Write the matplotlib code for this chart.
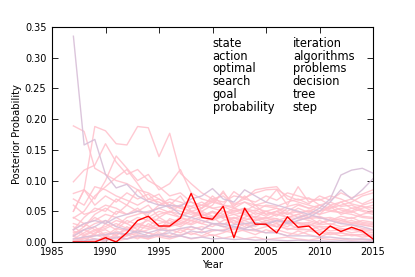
import matplotlib
matplotlib.use("Agg")
import matplotlib.pyplot as plt
import numpy as np

years = list(range(1987, 2016))

highlight = [0.000, 0.000, 0.000, 0.007, 0.000, 0.015, 0.035, 0.042, 0.026, 0.026,
             0.039, 0.079, 0.040, 0.037, 0.058, 0.007, 0.055, 0.029, 0.029, 0.015,
             0.041, 0.024, 0.026, 0.011, 0.026, 0.017, 0.024, 0.018, 0.005]

pink_series = [
    [.189,.180,.120,.110,.100,.095,.085,.080,.070,.060,.055,.050,.045,.040,.042,.035,.030,.030,.028,.025,.022,.020,.020,.018,.015,.015,.012,.012,.010],
    [.050,.085,.188,.181,.160,.158,.188,.186,.139,.177,.112,.095,.080,.070,.075,.060,.065,.055,.050,.055,.045,.050,.040,.042,.035,.038,.030,.028,.025],
    [.098,.117,.125,.160,.130,.110,.118,.100,.090,.075,.080,.065,.060,.055,.050,.045,.048,.040,.035,.038,.030,.032,.028,.025,.025,.022,.020,.020,.018],
    [.079,.085,.070,.100,.140,.120,.100,.110,.085,.095,.118,.080,.070,.065,.060,.055,.050,.060,.045,.050,.040,.045,.038,.040,.035,.030,.032,.028,.025],
    [.050,.085,.060,.075,.065,.080,.070,.078,.060,.065,.055,.058,.050,.060,.083,.055,.065,.060,.058,.055,.050,.060,.055,.050,.058,.045,.050,.042,.040],
    [.039,.050,.075,.090,.105,.118,.095,.070,.078,.055,.050,.045,.050,.042,.040,.045,.038,.035,.040,.032,.035,.030,.032,.028,.030,.025,.028,.022,.020],
    [.020,.040,.055,.050,.070,.060,.085,.065,.070,.060,.075,.050,.055,.075,.060,.082,.070,.085,.088,.090,.070,.065,.060,.055,.050,.048,.045,.040,.038],
    [.009,.020,.030,.035,.025,.040,.045,.050,.055,.048,.060,.065,.055,.068,.060,.058,.075,.060,.065,.085,.060,.090,.065,.070,.060,.065,.055,.058,.050],
    [.000,.005,.010,.015,.012,.020,.025,.022,.030,.035,.028,.040,.045,.038,.050,.048,.055,.050,.060,.058,.065,.070,.062,.075,.068,.080,.072,.078,.085],
    [.030,.025,.040,.030,.050,.045,.055,.040,.050,.045,.040,.050,.042,.048,.040,.052,.045,.040,.050,.042,.055,.048,.050,.045,.060,.052,.048,.055,.060],
    [.010,.000,.015,.020,.010,.025,.015,.030,.020,.025,.035,.030,.040,.035,.045,.030,.040,.048,.042,.050,.045,.055,.048,.060,.055,.065,.070,.062,.070],
    [.000,.010,.005,.000,.015,.010,.020,.015,.010,.020,.015,.025,.020,.030,.025,.020,.030,.025,.035,.030,.025,.035,.040,.030,.035,.042,.038,.045,.050],
    [.020,.030,.020,.025,.035,.030,.020,.040,.035,.030,.040,.035,.030,.025,.035,.040,.030,.020,.025,.030,.020,.025,.030,.020,.025,.018,.022,.015,.012],
    [.005,.015,.025,.010,.005,.015,.010,.005,.015,.010,.020,.012,.018,.010,.015,.022,.018,.012,.020,.015,.010,.018,.012,.008,.015,.010,.012,.008,.010],
    [.002,.000,.003,.005,.002,.005,.008,.005,.010,.008,.012,.015,.010,.018,.020,.025,.022,.030,.028,.035,.040,.038,.045,.050,.055,.060,.065,.075,.080],
    [.060,.045,.050,.060,.055,.045,.050,.060,.040,.050,.045,.040,.048,.035,.042,.038,.045,.035,.040,.038,.032,.040,.035,.030,.038,.032,.035,.030,.028],
    [.015,.020,.012,.030,.020,.035,.028,.025,.040,.030,.025,.035,.030,.040,.028,.035,.025,.038,.030,.025,.035,.030,.025,.035,.028,.035,.030,.035,.032],
    [.000,.008,.012,.006,.010,.005,.012,.008,.018,.025,.030,.040,.055,.065,.080,.062,.070,.065,.075,.068,.080,.075,.070,.068,.075,.070,.062,.058,.055],
    [.040,.030,.035,.045,.040,.030,.040,.035,.045,.050,.040,.055,.060,.070,.065,.075,.072,.080,.085,.086,.075,.068,.072,.060,.065,.058,.060,.052,.048],
    [.025,.012,.020,.008,.018,.012,.005,.015,.008,.005,.010,.005,.008,.012,.006,.010,.005,.008,.004,.006,.008,.005,.003,.006,.004,.005,.003,.004,.002],
    [.012,.025,.045,.055,.045,.060,.050,.045,.060,.070,.065,.058,.065,.055,.058,.050,.055,.045,.050,.045,.048,.040,.045,.038,.040,.035,.040,.032,.030],
    [.000,.000,.002,.004,.006,.010,.015,.020,.025,.030,.038,.035,.042,.050,.045,.055,.048,.052,.045,.050,.058,.062,.055,.060,.052,.048,.055,.050,.045],
    [.070,.060,.090,.085,.075,.068,.060,.070,.065,.055,.060,.048,.042,.050,.038,.030,.035,.028,.032,.025,.030,.022,.020,.025,.018,.020,.015,.018,.015],
    [.003,.006,.000,.010,.022,.018,.030,.025,.020,.038,.032,.028,.035,.030,.028,.040,.035,.042,.038,.045,.040,.045,.052,.045,.050,.055,.050,.060,.065],
    [.018,.010,.018,.022,.030,.022,.028,.035,.025,.018,.022,.020,.025,.020,.018,.015,.020,.018,.015,.020,.015,.012,.018,.015,.012,.015,.010,.012,.008],
]

thistle_series = [
    [.335,.158,.167,.110,.088,.094,.075,.066,.060,.058,.045,.040,.035,.030,.030,.025,.020,.020,.015,.015,.010,.010,.010,.008,.008,.006,.005,.005,.004],
    [.000,.002,.005,.003,.008,.005,.010,.008,.012,.015,.010,.018,.015,.020,.018,.025,.022,.028,.030,.035,.032,.040,.045,.055,.070,.109,.117,.120,.112],
    [.005,.008,.010,.012,.015,.012,.018,.015,.020,.018,.022,.025,.020,.030,.025,.028,.030,.032,.028,.035,.030,.035,.040,.050,.065,.085,.070,.085,.103],
    [.020,.030,.035,.030,.040,.045,.050,.048,.055,.060,.058,.070,.075,.087,.070,.065,.085,.075,.065,.060,.055,.050,.045,.040,.035,.030,.028,.025,.020],
    [.010,.020,.025,.035,.025,.020,.015,.010,.012,.008,.010,.006,.008,.005,.006,.004,.005,.003,.004,.003,.002,.003,.002,.002,.001,.002,.001,.001,.001],
]

words_left = ["state", "action", "optimal", "search", "goal", "probability"]
words_right = ["iteration", "algorithms", "problems", "decision", "tree", "step"]

plt.rcParams['font.family'] = ['DejaVu Sans']
fig = plt.figure(figsize=(4.15, 2.77), dpi=100)
ax = fig.add_axes([52/415, 35/277, 321/415, 215/277])

for s in pink_series:
    ax.plot(years, s, color='pink', lw=1.0, alpha=0.85)
for s in thistle_series:
    ax.plot(years, s, color='thistle', lw=1.0, alpha=0.9)
ax.plot(years, highlight, color='red', lw=1.0)

ax.set_xlim(1985, 2015)
ax.set_ylim(0, 0.35)
ax.set_xticks(range(1985, 2016, 5))
ax.set_yticks(np.arange(0, 0.351, 0.05))
ax.yaxis.set_major_formatter(matplotlib.ticker.FormatStrFormatter('%.2f'))
ax.tick_params(direction='in', top=True, right=True, labelsize=7, length=4, width=0.6)
ax.tick_params(axis='x', pad=3.5)
ax.tick_params(axis='y', pad=4)
for sp in ax.spines.values():
    sp.set_linewidth(0.8)
ax.set_xlabel('Year', fontsize=7.2, labelpad=2)
ax.set_ylabel('Posterior Probability', fontsize=7.2, labelpad=2)

for i, w in enumerate(words_left):
    ax.text(0.5, 0.908 - 0.0595 * i, w, transform=ax.transAxes, fontsize=8.3, ha='left', va='baseline')
for i, w in enumerate(words_right):
    ax.text(0.75, 0.908 - 0.0595 * i, w, transform=ax.transAxes, fontsize=8.3, ha='left', va='baseline')

fig.savefig('out.png', dpi=100)
